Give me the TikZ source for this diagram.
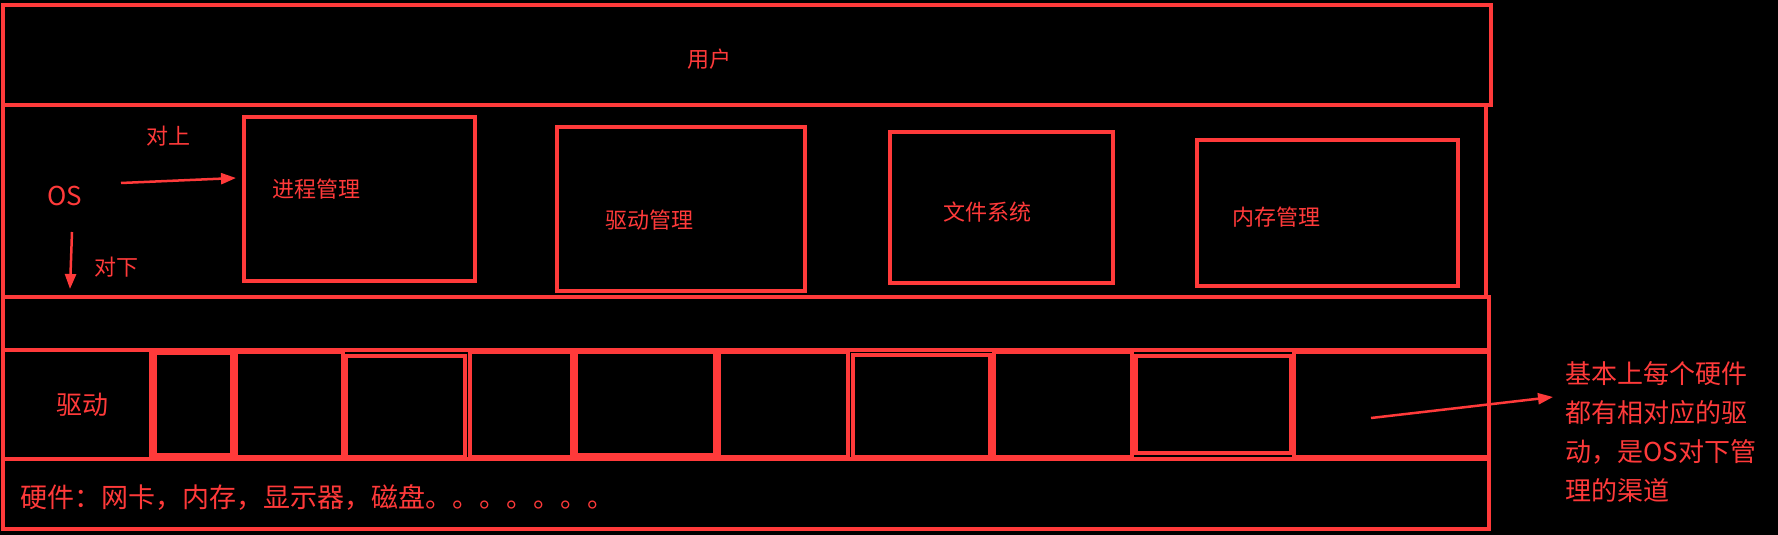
\documentclass[tikz,border=0pt]{standalone}
\usepackage{fontspec}
\setmainfont{Noto Sans CJK SC}
\usetikzlibrary{arrows.meta}
\definecolor{lred}{RGB}{255,58,58}
\newcommand\bx[6][]{\node[frame,#1,anchor=north west,minimum width=#5-#3,minimum height=#6-#4] (#2) at (#3,#4) {};}
\begin{document}
\begin{tikzpicture}[x=1pt,y=-1pt,
  frame/.style={draw=lred,line width=4pt,inner sep=0pt,outer sep=0pt},
  thick box/.style={line width=4.6pt},
  thin box/.style={line width=3.4pt},
  lbl/.style={text=lred,inner sep=0pt,font=\fontsize{22}{26}\selectfont},
  big/.style={font=\fontsize{26}{30}\selectfont},
  arr/.style={draw=lred,line width=2.5pt,-{Triangle[length=15pt,width=11pt]}}]
\fill[black] (0,0) rectangle (1778,535);
\useasboundingbox (0,0) rectangle (1778,535);
% layers
\bx{user}{3}{5}{1491}{105}
\bx{os}{3}{105}{1486}{297}
\bx{gap}{3}{297}{1489}{350}
\bx{drvrow}{3}{350}{1489}{459}
\bx{hw}{3}{459}{1489}{529}
% OS modules
\bx{proc}{244}{117}{475}{281}
\bx{drvm}{557}{127}{805}{291}
\bx{fs}{890}{132}{1113}{283}
\bx{mem}{1197}{140}{1458}{286}
% driver cells
\bx[thin box]{drvlab}{3}{350}{151}{459}
\bx[thick box]{c1}{155}{353}{232}{455}
\bx[thin box]{c2}{236}{352}{343}{457}
\bx[thick box]{c3}{346}{356}{465}{457}
\bx[thin box]{c4}{470}{352}{572}{457}
\bx[thick box]{c5}{576}{352}{715}{455}
\bx[thin box]{c6}{719}{352}{848}{457}
\bx[thick box]{c7}{853}{355}{990}{457}
\bx[thin box]{c8}{994}{352}{1132}{457}
\bx[thick box]{c9}{1136}{356}{1291}{453}
\bx[thin box]{c10}{1294}{352}{1489}{457}
% texts
\node[lbl] (tuser) at (709,59) {用户};
\node[lbl,big] (tos) at (65,196) {OS};
\node[lbl] (tup) at (168,136) {对上};
\node[lbl] (tdown) at (116,267) {对下};
\node[lbl,anchor=west] (tproc) at (272,189) {进程管理};
\node[lbl] (tdrvm) at (649,220) {驱动管理};
\node[lbl] (tfs) at (987,212) {文件系统};
\node[lbl] (tmem) at (1276,217) {内存管理};
\node[lbl,big] (tdrv) at (82,405) {驱动};
\node[lbl,anchor=west,font=\fontsize{27}{30}\selectfont] (thw) at (20,497) {硬件：网卡，内存，显示器，磁盘。。。。。。。};
\node[lbl,anchor=north west,align=left,font=\fontsize{26}{39}\selectfont] (tnote) at (1565,361)
  {基本上每个硬件\\都有相对应的驱\\动，是OS对下管\\理的渠道};
% arrows
\coordinate (a1s) at (121,183);
\coordinate (a1e) at (236,178);
\coordinate (a2s) at (72,232);
\coordinate (a2e) at (70,289);
\coordinate (a3s) at (1371,418);
\coordinate (a3e) at (1553,397);
\draw[arr] (a1s) -- (a1e);
\draw[arr] (a2s) -- (a2e);
\draw[arr] (a3s) -- (a3e);
\end{tikzpicture}
\end{document}
